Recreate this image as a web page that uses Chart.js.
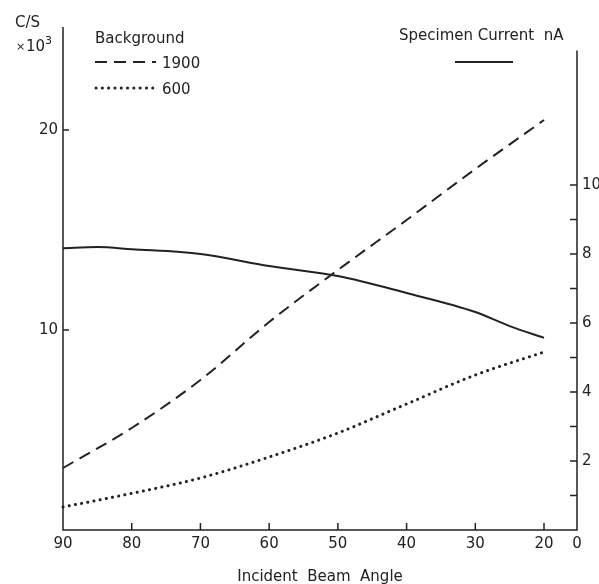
<!DOCTYPE html>
<html>
<head>
<meta charset="utf-8">
<script src="https://cdn.jsdelivr.net/npm/chart.js@4.4.1/dist/chart.umd.min.js"></script>
<style>
  html, body { margin: 0; padding: 0; background: #fff; }
  canvas { display: block; }
</style>
</head>
<body>
<canvas id="chart" width="599" height="584"></canvas>
<script>
// Background counts (C/S x 10^3, left axis)
const bgAngles = [90, 80, 70, 60, 50, 40, 30, 20];
const bg1900 = [3.1, 5.1, 7.5, 10.4, 13.0, 15.5, 18.05, 20.5];
const bg600 = [1.15, 1.83, 2.6, 3.65, 4.85, 6.3, 7.75, 8.9];

// Specimen current (nA, right axis)
const currentAngles = [90, 85, 80, 70, 60, 50, 40, 30, 25, 20];
const specimenCurrent = [8.17, 8.2, 8.14, 8.0, 7.65, 7.36, 6.87, 6.32, 5.91, 5.57];

// Tick labels
const xTicks = [90, 80, 70, 60, 50, 40, 30, 20];
const leftTicks = [10, 20];
const rightLabels = [2, 4, 6, 8, 10];
const rightMarks = [1, 2, 3, 4, 5, 6, 7, 8, 9, 10];

const xMin = 15.2, xMax = 90;
const leftMax = 25.15;
const rightMax = 14.58;
const rightAxisTop = 13.9;

const ink = '#222';
const font = "'DejaVu Sans', sans-serif";

function pairs(xs, ys) {
    return xs.map((x, i) => ({ x: x, y: ys[i] }));
}

const decor = {
    id: 'decor',
    afterDraw(chart) {
        const { ctx, chartArea: a, scales } = chart;
        const x = scales.x, yl = scales.yLeft, yr = scales.yRight;
        ctx.save();
        ctx.strokeStyle = ink;
        ctx.lineWidth = 1.5;

        // axis frame
        ctx.beginPath();
        ctx.moveTo(a.left, a.top);
        ctx.lineTo(a.left, a.bottom);
        ctx.lineTo(a.right, a.bottom);
        ctx.lineTo(a.right, yr.getPixelForValue(rightAxisTop));
        ctx.stroke();

        // inward tick marks
        ctx.beginPath();
        xTicks.slice(1).forEach(v => {
            const px = x.getPixelForValue(v);
            ctx.moveTo(px, a.bottom);
            ctx.lineTo(px, a.bottom - 7);
        });
        leftTicks.forEach(v => {
            const py = yl.getPixelForValue(v);
            ctx.moveTo(a.left, py);
            ctx.lineTo(a.left + 6, py);
        });
        rightMarks.forEach(v => {
            const py = yr.getPixelForValue(v);
            ctx.moveTo(a.right, py);
            ctx.lineTo(a.right - 7, py);
        });
        ctx.stroke();

        // legend samples
        ctx.lineWidth = 2;
        ctx.setLineDash([12, 7]);
        ctx.beginPath();
        ctx.moveTo(95, 62); ctx.lineTo(156, 62);
        ctx.stroke();
        ctx.setLineDash([0.1, 6.2]);
        ctx.lineCap = 'round';
        ctx.lineWidth = 3;
        ctx.beginPath();
        ctx.moveTo(96, 88); ctx.lineTo(156, 88);
        ctx.stroke();
        ctx.setLineDash([]);
        ctx.lineCap = 'butt';
        ctx.lineWidth = 2;
        ctx.beginPath();
        ctx.moveTo(455, 62); ctx.lineTo(513, 62);
        ctx.stroke();

        // texts
        ctx.fillStyle = ink;
        ctx.textBaseline = 'alphabetic';
        ctx.textAlign = 'left';
        ctx.font = '15px ' + font;
        ctx.fillText('Background', 95, 43);
        ctx.fillText('1900', 162, 68);
        ctx.fillText('600', 162, 94);
        ctx.fillText('Specimen Current  nA', 399, 40);
        ctx.fillText('C/S', 15, 27);
        ctx.font = '11px ' + font;
        ctx.fillText('×', 16, 50);
        ctx.font = '15px ' + font;
        ctx.fillText('10', 26, 51);
        ctx.font = '11px ' + font;
        ctx.fillText('3', 45, 44);
        ctx.restore();
    }
};

new Chart(document.getElementById('chart'), {
    type: 'line',
    data: {
        datasets: [
            {
                label: '1900',
                data: pairs(bgAngles, bg1900),
                yAxisID: 'yLeft',
                borderColor: ink,
                borderWidth: 2,
                borderDash: [12, 7],
                pointRadius: 0,
                cubicInterpolationMode: 'monotone',
                clip: false
            },
            {
                label: '600',
                data: pairs(bgAngles, bg600),
                yAxisID: 'yLeft',
                borderColor: ink,
                borderWidth: 3,
                borderDash: [0.1, 6.2],
                borderCapStyle: 'round',
                pointRadius: 0,
                cubicInterpolationMode: 'monotone',
                clip: false
            },
            {
                label: 'Specimen Current nA',
                data: pairs(currentAngles, specimenCurrent),
                yAxisID: 'yRight',
                borderColor: ink,
                borderWidth: 2,
                pointRadius: 0,
                cubicInterpolationMode: 'monotone',
                clip: false
            }
        ]
    },
    options: {
        responsive: false,
        animation: false,
        devicePixelRatio: 1,
        layout: { padding: { top: 27, left: 0, right: 0, bottom: 0 } },
        plugins: { legend: { display: false }, tooltip: { enabled: false } },
        scales: {
            x: {
                type: 'linear',
                reverse: true,
                min: xMin,
                max: xMax,
                grid: { display: false, drawTicks: false },
                border: { display: false },
                afterBuildTicks: s => { s.ticks = xTicks.concat([xMin]).map(v => ({ value: v })); },
                afterFit: s => { s.height = 54; },
                ticks: {
                    autoSkip: false,
                    maxRotation: 0,
                    padding: 5,
                    color: ink,
                    font: { family: font, size: 15 },
                    callback: v => v === xMin ? '0' : String(v)
                },
                title: {
                    display: true,
                    text: 'Incident  Beam  Angle',
                    color: ink,
                    font: { family: font, size: 15 },
                    padding: { top: 4, bottom: -2 }
                }
            },
            yLeft: {
                type: 'linear',
                position: 'left',
                min: 0,
                max: leftMax,
                grid: { display: false, drawTicks: false },
                border: { display: false },
                afterBuildTicks: s => { s.ticks = leftTicks.map(v => ({ value: v })); },
                afterFit: s => { s.width = 63; },
                ticks: { padding: 5, color: ink, font: { family: font, size: 15 } }
            },
            yRight: {
                type: 'linear',
                position: 'right',
                min: 0,
                max: rightMax,
                grid: { display: false, drawTicks: false },
                border: { display: false },
                afterBuildTicks: s => { s.ticks = rightLabels.map(v => ({ value: v })); },
                afterFit: s => { s.width = 22; },
                ticks: { padding: 5, color: ink, font: { family: font, size: 15 } }
            }
        }
    },
    plugins: [decor]
});
</script>
</body>
</html>
